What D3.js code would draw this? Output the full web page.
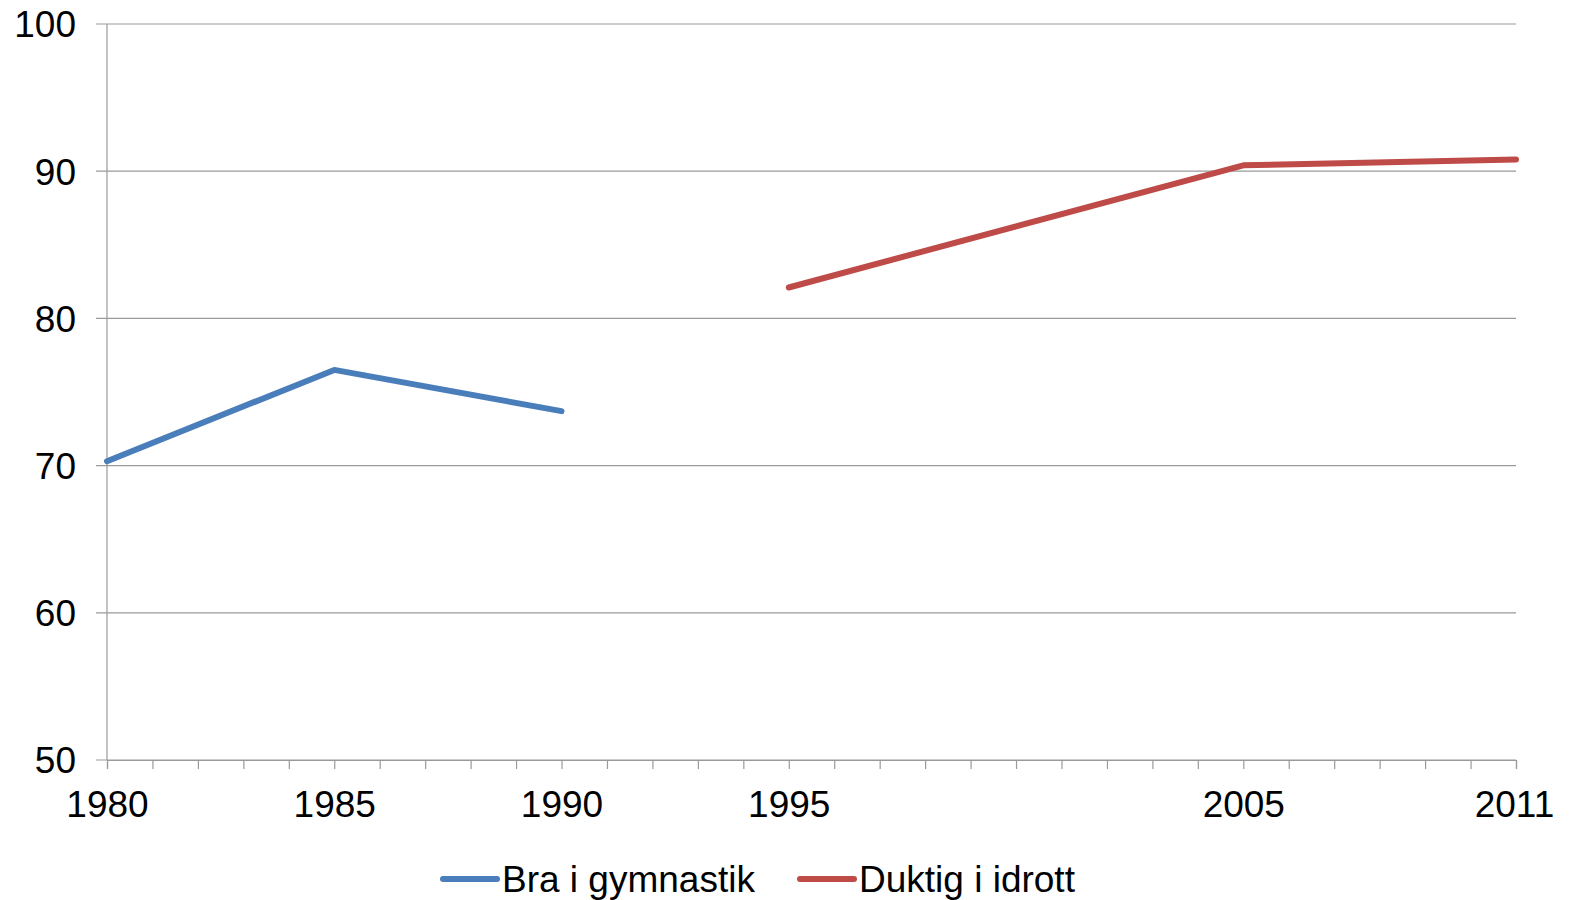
<!DOCTYPE html>
<html>
<head>
<meta charset="utf-8">
<script src="https://cdn.jsdelivr.net/npm/d3@7"></script>
<style>
  body { margin: 0; background: #fff; }
  text { font-family: "Liberation Sans", Arial, sans-serif; fill: #000; }
</style>
</head>
<body>
<div id="chart"></div>
<script>
// data
let gymYears = [1980, 1985, 1990],
    gymValues = [70.3, 76.5, 73.7];
let idrottYears = [1995, 2005, 2011],
    idrottValues = [82.1, 90.4, 90.8];
let labelYears = [1980, 1985, 1990, 1995, 2005, 2011];
let yTicks = [50, 60, 70, 80, 90, 100];
let seriesNames = ["Bra i gymnastik", "Duktig i idrott"];
let seriesColors = ["#4a7ebb", "#be4b48"];

let svgWidth = 1570, svgHeight = 900;
let margin = {top: 24, right: 54, bottom: 140, left: 107};

let svg = d3.select("#chart").append("svg")
  .attr("width", svgWidth)
  .attr("height", svgHeight);

let x = d3.scaleLinear().domain([1980, 2011]).range([margin.left, svgWidth - margin.right]);
let y = d3.scaleLinear().domain([50, 100]).range([svgHeight - margin.bottom, margin.top]);

// gridlines
svg.append("g").selectAll("line")
  .data(yTicks)
  .enter().append("line")
    .attr("x1", margin.left - 11)
    .attr("x2", svgWidth - margin.right)
    .attr("y1", d => y(d))
    .attr("y2", d => y(d))
    .attr("stroke", "#9a9a9a")
    .attr("stroke-width", 1.2);

// y axis line
svg.append("line")
  .attr("x1", margin.left).attr("x2", margin.left)
  .attr("y1", y(100)).attr("y2", y(50))
  .attr("stroke", "#9a9a9a").attr("stroke-width", 1.2);

svg.append("g").selectAll("text")
  .data(yTicks)
  .enter().append("text")
    .attr("x", 76)
    .attr("y", d => y(d))
    .attr("dy", "0.36em")
    .attr("text-anchor", "end")
    .attr("font-size", "37px")
    .text(d => d);

// x axis, tick every year
let xAxis = d3.axisBottom(x)
  .tickValues(d3.range(1980, 2012))
  .tickSize(9)
  .tickFormat(d => labelYears.includes(d) ? d : "");

let gx = svg.append("g")
  .attr("transform", `translate(0,${y(50)})`)
  .call(xAxis);
gx.select(".domain").attr("stroke", "#9a9a9a").attr("stroke-width", 1.2);
gx.selectAll(".tick line").attr("stroke", "#9a9a9a").attr("stroke-width", 1.2);
gx.selectAll(".tick text")
  .attr("font-size", "37px")
  .attr("font-family", "Liberation Sans, Arial, sans-serif")
  .attr("fill", "#000")
  .attr("y", 31)
  .attr("dy", "0.71em");
gx.selectAll(".tick").filter(d => d === 2011).select("text").attr("dx", "-2px");

let line = d3.line().x(d => x(d[0])).y(d => y(d[1]));

svg.append("path")
  .datum(d3.zip(gymYears, gymValues))
  .attr("d", line)
  .attr("fill", "none")
  .attr("stroke", seriesColors[0])
  .attr("stroke-width", 6)
  .attr("stroke-linecap", "round")
  .attr("stroke-linejoin", "round");

svg.append("path")
  .datum(d3.zip(idrottYears, idrottValues))
  .attr("d", line)
  .attr("fill", "none")
  .attr("stroke", seriesColors[1])
  .attr("stroke-width", 6)
  .attr("stroke-linecap", "round")
  .attr("stroke-linejoin", "round");

// legend
let legendX = [443, 800];
let legend = svg.append("g").selectAll("g")
  .data(seriesNames)
  .enter().append("g")
    .attr("transform", (d, i) => `translate(${legendX[i]},879)`);
legend.append("line")
  .attr("x1", 0).attr("x2", 54)
  .attr("stroke", (d, i) => seriesColors[i])
  .attr("stroke-width", 6)
  .attr("stroke-linecap", "round");
legend.append("text")
  .attr("x", 59)
  .attr("dy", "0.36em")
  .attr("font-size", "37px")
  .text(d => d);
</script>
</body>
</html>
